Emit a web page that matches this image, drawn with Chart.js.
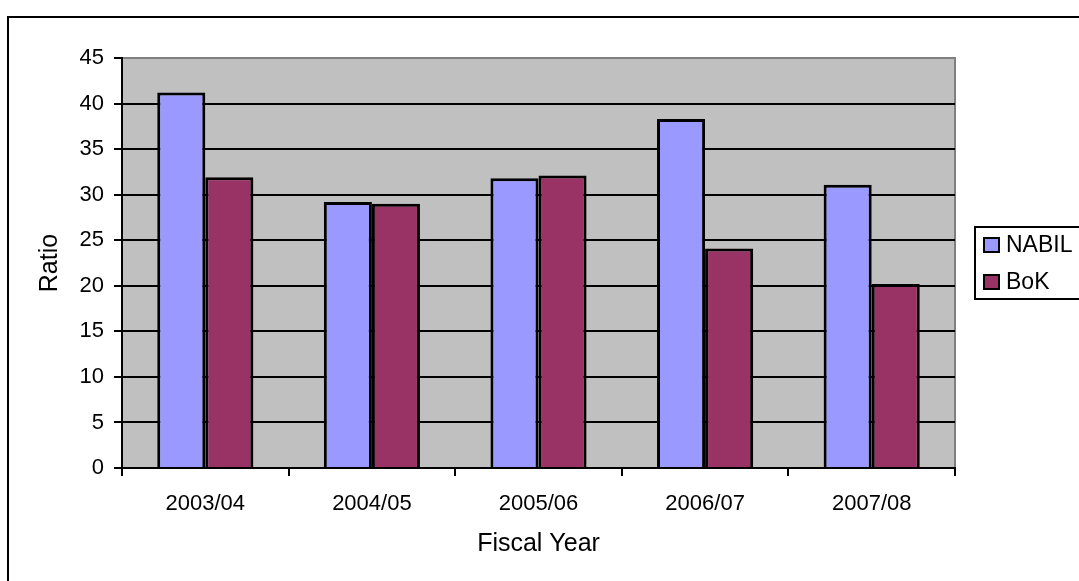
<!DOCTYPE html>
<html>
<head>
<meta charset="utf-8">
<script src="https://cdn.jsdelivr.net/npm/chart.js@4"></script>
<style>
  html, body { margin: 0; padding: 0; background: #fff; }
  #wrap { width: 1079px; height: 581px; }
</style>
</head>
<body>
<div id="wrap"><canvas id="ratioChart"></canvas></div>
<script>
// data
const years = ['2003/04', '2004/05', '2005/06', '2006/07', '2007/08'];
const nabil = [41.2, 29.2, 31.8, 38.3, 31.1];
const bok = [31.9, 29.0, 32.1, 24.1, 20.2];
const seriesNames = ['NABIL', 'BoK'];
const seriesColors = ['#9999FF', '#993366'];

const FONT = 'Arial, "Liberation Sans", sans-serif';

// grey plot area + outer frame
const frame = {
    id: 'frame',
    beforeDraw(chart) {
        const ctx = chart.ctx;
        const a = chart.chartArea;
        ctx.save();
        ctx.fillStyle = '#fff';
        ctx.fillRect(0, 0, chart.width, chart.height);
        ctx.strokeStyle = '#000';
        ctx.lineWidth = 2;
        ctx.strokeRect(8, 17, 1200, 800);
        ctx.fillStyle = '#C0C0C0';
        ctx.fillRect(a.left, a.top, a.right - a.left, a.bottom - a.top);
        ctx.strokeStyle = '#808080';
        ctx.beginPath();
        ctx.moveTo(a.left, a.top);
        ctx.lineTo(a.right, a.top);
        ctx.lineTo(a.right, a.bottom);
        ctx.stroke();
        ctx.restore();
    }
};

// boxed legend on the right, like the excel one
const boxLegend = {
    id: 'boxLegend',
    afterDraw(chart) {
        const ctx = chart.ctx;
        ctx.save();
        ctx.strokeStyle = '#000';
        ctx.lineWidth = 2;
        ctx.strokeRect(975, 227, 200, 72);
        ctx.font = '23px ' + FONT;
        ctx.textBaseline = 'middle';
        ctx.textAlign = 'left';
        chart.data.datasets.forEach((ds, i) => {
            const y = 245 + i * 37;
            ctx.fillStyle = ds.backgroundColor;
            ctx.fillRect(984, y - 7, 15, 14);
            ctx.lineWidth = 2;
            ctx.strokeRect(984, y - 7, 15, 14);
            ctx.fillStyle = '#000';
            ctx.fillText(ds.label, 1006, y + 1);
        });
        ctx.restore();
    }
};

const ctx = document.getElementById('ratioChart').getContext('2d');
const chart = new Chart(ctx, {
    type: 'bar',
    data: {
        labels: years,
        datasets: [
            { label: seriesNames[0], data: nabil, backgroundColor: seriesColors[0] },
            { label: seriesNames[1], data: bok, backgroundColor: seriesColors[1] }
        ]
    },
    options: {
        responsive: true,
        maintainAspectRatio: false,
        animation: false,
        layout: { padding: { top: 58, right: 124, left: 0, bottom: 0 } },
        datasets: {
            bar: {
                borderColor: '#000',
                borderWidth: 3,
                categoryPercentage: 0.577,
                barPercentage: 1
            }
        },
        plugins: {
            legend: { display: false },
            tooltip: { enabled: false }
        },
        scales: {
            x: {
                offset: true,
                grid: {
                    offset: true,
                    drawOnChartArea: false,
                    tickLength: 8,
                    tickColor: '#000',
                    lineWidth: 2
                },
                border: { color: '#000', width: 2 },
                ticks: { color: '#000', font: { family: FONT, size: 22 }, padding: 15 },
                title: {
                    display: true,
                    text: 'Fiscal Year',
                    color: '#000',
                    font: { family: FONT, size: 25 },
                    padding: { top: 0, bottom: 22 }
                },
                afterFit(scale) { scale.height = 113; }
            },
            y: {
                min: 0,
                max: 45,
                grid: {
                    color: c => c.tick && c.tick.value === 45 ? '#808080' : '#000',
                    tickColor: '#000',
                    tickLength: 8,
                    lineWidth: 2
                },
                border: { color: '#000', width: 2 },
                ticks: { stepSize: 5, color: '#000', font: { family: FONT, size: 22 }, padding: 10 },
                title: {
                    display: true,
                    text: 'Ratio',
                    color: '#000',
                    font: { family: FONT, size: 25 },
                    padding: { top: 35, bottom: 0 }
                },
                afterFit(scale) { scale.width = 122; }
            }
        }
    },
    plugins: [frame, boxLegend]
});
</script>
</body>
</html>
